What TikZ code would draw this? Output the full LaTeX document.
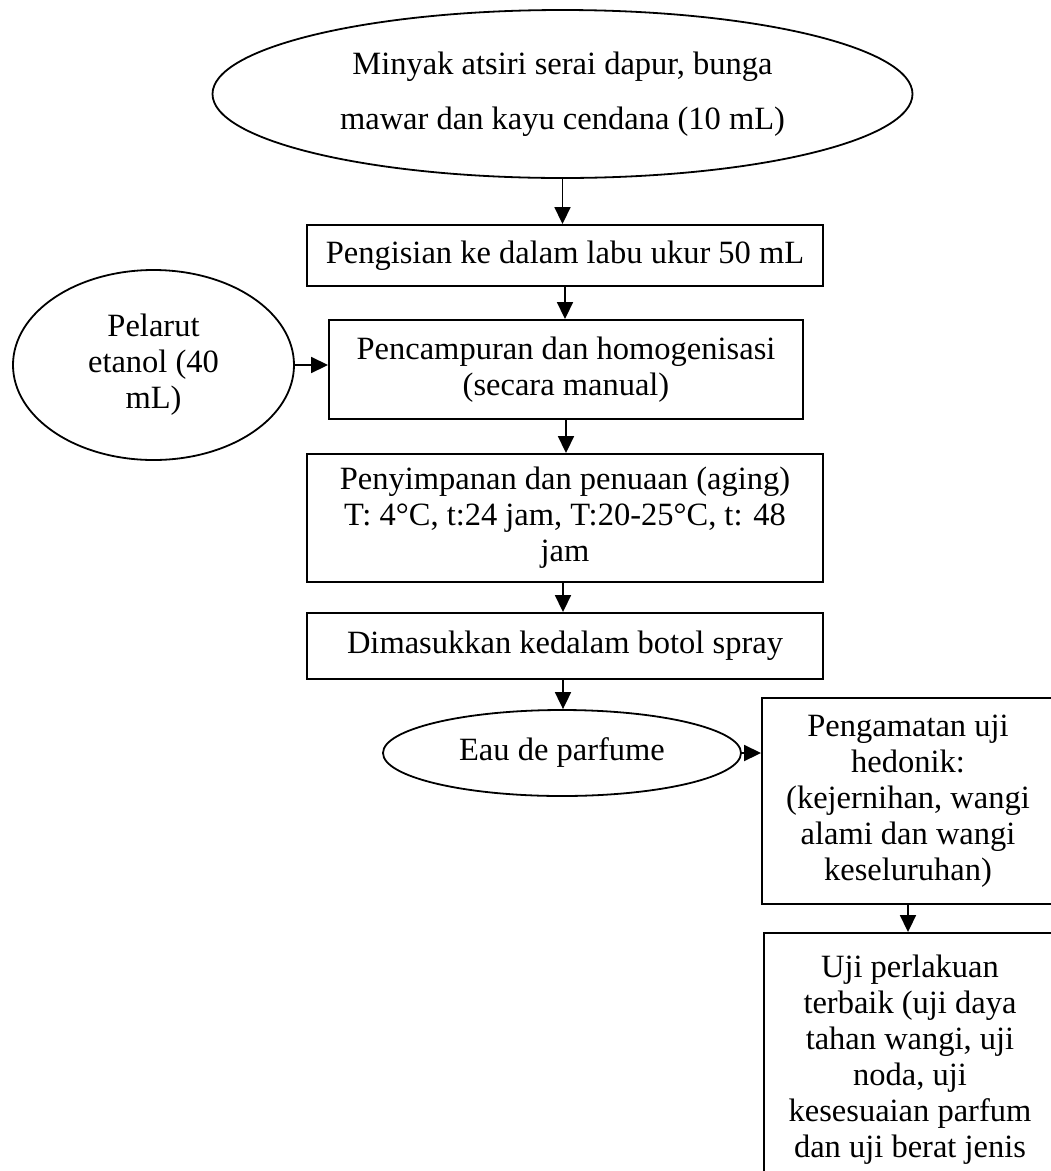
\documentclass[tikz,border=0pt]{standalone}
\usepackage{fontspec}
\setmainfont{Liberation Serif}
\usetikzlibrary{shapes.geometric, arrows.meta, positioning}
\newcommand{\flowfont}{\fontsize{32.5}{36}\selectfont}
\tikzset{
  procbox/.style={rectangle, draw=black, line width=1.9pt, fill=white,
                  minimum width=#1, align=center, inner sep=0pt, font=\flowfont},
  procbox/.default=516pt,
  oval/.style={ellipse, draw=black, line width=1.8pt, fill=white,
               align=center, inner sep=0pt, font=\flowfont},
  arrow/.style={-{Triangle[length=17pt, width=16pt]}, line width=1.8pt, color=black},
}

\begin{document}
\begin{tikzpicture}[x=1pt, y=-1pt]
        \useasboundingbox (0,0) rectangle (1051,1171);
        % Bahan baku
        \node[oval, minimum width=700pt, minimum height=168pt,
              font={\fontsize{32.5}{55}\selectfont}] (minyak) at (562.5,94)
             {Minyak atsiri serai dapur, bunga\\mawar dan kayu cendana (10 mL)};
        \node[oval, minimum width=281pt, minimum height=190pt] (pelarut) at (153.5,365)
             {Pelarut\\etanol (40\\mL)};
        
        % Proses
        \node[procbox, minimum height=61pt] (isi) at (565,255.5)
             {Pengisian ke dalam labu ukur 50 mL};
        \node[procbox=474pt, minimum height=99pt] (campur) at (566,369.5)
             {Pencampuran dan homogenisasi\\(secara manual)};
        \node[procbox, minimum height=128pt] (simpan) at (565,518)
             {Penyimpanan dan penuaan (aging)\\T: 4°C, t:24 jam, T:20-25°C, t: 48\\jam};
        \node[procbox, minimum height=66pt] (botol) at (565,646)
             {Dimasukkan kedalam botol spray};
        \node[oval, minimum width=358pt, minimum height=86pt] (eau) at (562,753)
             {Eau de parfume};
        
        % Pengujian
        \node[procbox=292pt, minimum height=206pt] (hedonik) at (908,801)
             {Pengamatan uji\\hedonik:\\(kejernihan, wangi\\alami dan wangi\\keseluruhan)};
        \node[procbox=292pt, minimum height=254pt] (terbaik) at (910,1060)
             {Uji perlakuan\\terbaik (uji daya\\tahan wangi, uji\\noda, uji\\kesesuaian parfum\\dan uji berat jenis};
        
        \draw[arrow] (minyak.south) -- (minyak.south |- isi.north);
        \draw[arrow] (isi.south) -- (isi.south |- campur.north);
        \draw[arrow] (pelarut.east) -- (pelarut.east -| campur.west);
        \draw[arrow] (campur.south) -- (campur.south |- simpan.north);
        \draw[arrow] ([xshift=-2pt]simpan.south) -- ([xshift=-2pt]simpan.south |- botol.north);
        \draw[arrow] ([xshift=-2pt]botol.south) -- ([xshift=-2pt]botol.south |- eau.north);
        \draw[arrow] (eau.east) -- (eau.east -| hedonik.west);
        \draw[arrow] (hedonik.south) -- (hedonik.south |- terbaik.north);
      \end{tikzpicture}
\end{document}
